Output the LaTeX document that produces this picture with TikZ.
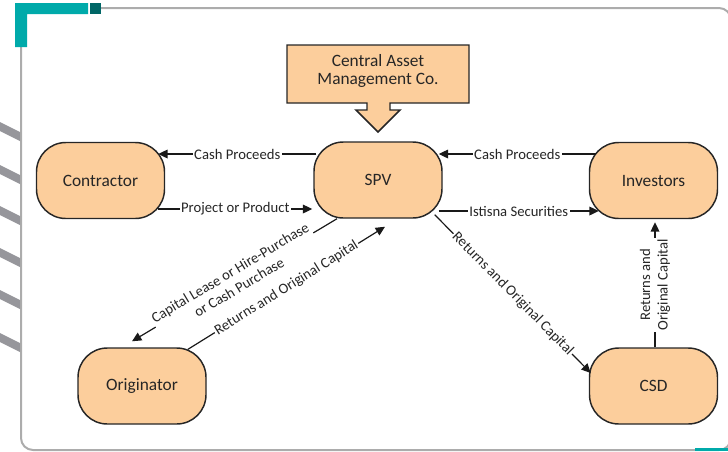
\documentclass[tikz,border=0pt]{standalone}
\usepackage{fontspec}
\setmainfont{Carlito}
\usetikzlibrary{calc,arrows.meta}
\definecolor{peach}{RGB}{252,206,156}
\definecolor{teala}{RGB}{0,170,170}
\definecolor{tealb}{RGB}{0,102,102}
\definecolor{framegray}{RGB}{172,172,172}
\definecolor{stripegray}{RGB}{150,150,155}
\definecolor{txt}{RGB}{38,38,38}
\begin{document}
\begin{tikzpicture}[x=0.75pt,y=-0.75pt,
  box/.style={draw=black!85, line width=1.1pt, fill=peach, rounded corners=22pt,
    minimum width=96pt, minimum height=57pt, font=\fontsize{13}{15}\selectfont, text=txt},
  conn/.style={line width=0.9pt, draw=black!90, -{Triangle[length=7pt,width=6.5pt]}},
  lbl/.style={fill=white, inner sep=1pt, font=\fontsize{11}{13}\selectfont, text=txt}]
\useasboundingbox (0,0) rectangle (728,451);
% decorations
\draw[framegray, line width=1.5pt, rounded corners=9pt]
  (21,46) -- (21,450) -- (731,450) -- (731,8) -- (101,8);
\fill[teala] (15,3) -- (88,3) -- (88,14) -- (27,14) -- (27,47) -- (15,47) -- cycle;
\fill[tealb] (90,3) rectangle (101,14);
\fill[teala] (695,448) rectangle (728,451);
\foreach \y in {122,165,206,248,290,333}
  \fill[stripegray] (0,\y) -- (20,\y+10) -- (20,\y+19) -- (0,\y+9) -- cycle;
% central asset management callout
\filldraw[draw=black!85, line width=1.1pt, fill=peach]
  (287,45) -- (469,45) -- (469,103) -- (390,103) -- (390,110) -- (400,110) -- (378,132)
  -- (356,110) -- (367,110) -- (367,103) -- (287,103) -- cycle;
\node[align=center, font=\fontsize{13}{14}\selectfont, text=txt] (cam) at (378,71) {Central Asset\\Management Co.};
% nodes
\node[box] (ctr) at (100.5,180.5) {Contractor};
\node[box] (spv) at (378,180) {SPV};
\node[box] (inv) at (653.5,180.5) {Investors};
\node[box] (orig) at (142,386) {Originator};
\node[box] (csd) at (653.5,386) {CSD};
% connectors
\draw[conn] ($(spv.west)+(3,-26)$) -- node[lbl] {Cash Proceeds} ($(ctr.east)+(-7,-26.5)$);
\draw[conn] ($(ctr.east)+(-7,28.5)$) -- node[lbl] {Project or Product} ($(spv.west)+(-1,29)$);
\draw[conn] ($(inv.west)+(7,-26.5)$) -- node[lbl] {Cash Proceeds} ($(spv.east)+(-4,-26)$);
\draw[conn] ($(spv.east)+(-4,31)$) -- node[lbl] {Istisna Securities} ($(inv.west)+(10,30.5)$);
\draw[conn] ($(spv.south)+(-41,0)$) -- node[lbl, sloped, align=center] {Capital Lease or Hire-Purchase\\or Cash Purchase} ($(orig.north)+(-10,-6)$);
\draw[conn] ($(orig.north)+(46,2)$) -- node[lbl, sloped] {Returns and Original Capital} ($(spv.south)+(7,8)$);
\draw[conn] ($(spv.south east)+(-8,-4)$) -- node[lbl, sloped] {Returns and Original Capital} ($(csd.west)+(2,-13)$);
\draw[conn] ($(csd.north)+(1.5,0)$) -- node[lbl, sloped, align=center] {Returns and\\Original Capital} ($(inv.south)+(1.5,3)$);
\end{tikzpicture}
\end{document}
